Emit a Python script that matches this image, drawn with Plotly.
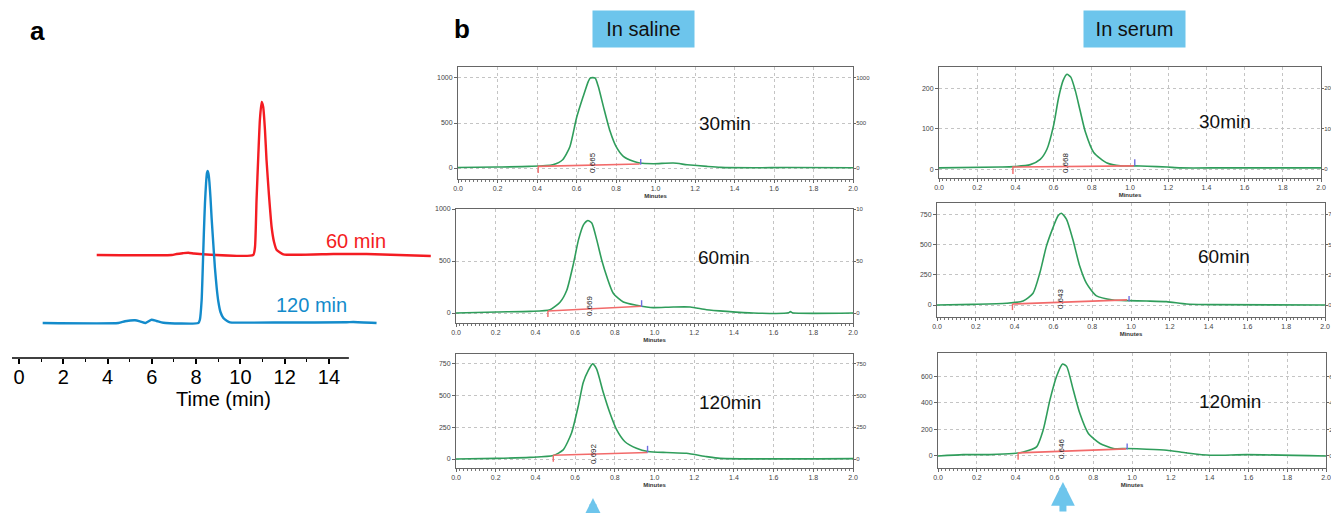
import plotly.graph_objects as go

# The page adds an 8px body margin, so the figure is sized to fill the rest of the window
OFF = 8
W, H = 1339 - OFF, 513 - OFF
FONT = "Liberation Sans, Arial, sans-serif"

# ---------------- Panel a data (time in min, intensity in a.u.) ----------------
t_120 = [1.07, 4.49, 4.79, 5.24, 5.46, 5.72, 5.99, 6.22, 6.52, 8.10, 8.17, 8.25, 8.30, 8.35, 8.40,
         8.45, 8.49, 8.52, 8.56, 8.60, 8.65, 8.70, 8.78, 8.85, 8.93, 9.00, 9.10, 9.23, 9.40, 9.53,
         12.0, 14.8, 15.1, 16.15]
v_120 = [0, 0, 1.7, 2.7, 1.7, 0, 3.3, 2, 0.3, 0, 3.3, 23, 55, 90, 120,
         140, 150, 152, 149, 141, 125, 105, 78, 55, 35, 22, 11, 5, 2, 0.7,
         0.5, 0.7, 1.0, 0]
t_60 = [3.51, 6.90, 7.12, 7.40, 7.65, 7.90, 8.17, 10.58, 10.66, 10.73, 10.81, 10.88, 10.96, 11.03,
        11.11, 11.18, 11.29, 11.41, 11.52, 11.64, 11.94, 14.2, 15.7, 18.6]
v_60 = [0, 0, 1, 1.8, 2.3, 1.5, 1, 0, 8, 55, 100, 135, 153, 148,
        125, 95, 60, 28, 13, 5, 0.7, 1, 1, -1]
offset_60 = 68
ticks_a = [0, 2, 4, 6, 8, 10, 12, 14]
minor_a = [1, 3, 5, 7, 9, 11, 13]

# ---------------- Panel b data (retention in Min/s, signal) ----------------
sal30_t = [0.0, 0.195, 0.36, 0.48, 0.53, 0.567, 0.60, 0.634, 0.66, 0.67, 0.694, 0.71, 0.736, 0.77,
           0.80, 0.837, 0.888, 0.92, 0.99, 1.09, 1.16, 1.26, 1.33, 1.5, 1.67, 2.0]
sal30_v = [5, 11, 18, 37, 92, 240, 555, 796, 963, 1000, 1000, 907, 685, 407,
           240, 130, 74, 55, 48, 55, 37, 18, 7, 3, 5, 3]
sal30_base_t, sal30_base_v = [0.406, 0.92], [18, 44]
sal30_start_t, sal30_start_v = [0.406, 0.406], [26, -55]
sal30_end_t, sal30_end_v = [0.925, 0.925], [37, 100]

ser30_t = [0.0, 0.32, 0.39, 0.478, 0.53, 0.565, 0.60, 0.626, 0.65, 0.67, 0.69, 0.714, 0.74, 0.766,
           0.81, 0.88, 0.95, 1.02, 1.09, 1.195, 1.265, 1.5, 2.0]
ser30_v = [3, 5, 6, 11, 24, 49, 108, 176, 219, 234, 227, 193, 142, 92,
           41, 15, 8, 8, 7, 5, 3, 3, 3]
ser30_base_t, ser30_base_v = [0.387, 1.02], [5, 8]
ser30_start_t, ser30_start_v = [0.387, 0.387], [7, -12]
ser30_end_t, ser30_end_v = [1.025, 1.025], [8, 24]

sal60_t = [0.0, 0.206, 0.374, 0.474, 0.525, 0.558, 0.592, 0.617, 0.642, 0.664, 0.684, 0.709, 0.734,
           0.76, 0.793, 0.843, 0.91, 0.96, 0.994, 1.095, 1.18, 1.262, 1.363, 1.497, 1.675, 1.685,
           1.695, 2.0]
sal60_v = [0, 10, 16, 32, 106, 219, 477, 703, 848, 890, 865, 703, 510,
           348, 187, 106, 74, 58, 52, 58, 58, 32, 16, 0, 2, 14, 2, 0]
sal60_base_t, sal60_base_v = [0.463, 0.935], [19, 65]
sal60_start_t, sal60_start_v = [0.463, 0.463], [19, -39]
sal60_end_t, sal60_end_v = [0.935, 0.935], [58, 123]

ser60_t = [0.0, 0.186, 0.358, 0.444, 0.495, 0.53, 0.564, 0.598, 0.624, 0.641, 0.667, 0.70, 0.736,
           0.77, 0.822, 0.908, 0.985, 1.08, 1.183, 1.286, 1.424, 2.0]
ser60_v = [0, 5, 14, 33, 97, 264, 486, 639, 736, 758, 708, 542, 319,
           180, 75, 42, 36, 33, 28, 8, 3, 0]
ser60_base_t, ser60_base_v = [0.389, 0.98], [8, 42]
ser60_start_t, ser60_start_v = [0.389, 0.389], [8, -42]
ser60_end_t, ser60_end_v = [0.99, 0.99], [28, 75]

sal120_t = [0.0, 0.205, 0.372, 0.49, 0.54, 0.582, 0.616, 0.641, 0.666, 0.688, 0.708, 0.742, 0.775,
            0.809, 0.85, 0.909, 0.968, 1.06, 1.161, 1.262, 1.33, 2.0]
sal120_v = [0, 5, 13, 27, 72, 205, 418, 604, 697, 750, 710, 524, 364,
            231, 138, 85, 59, 51, 45, 19, 5, 3]
sal120_base_t, sal120_base_v = [0.49, 0.965], [29, 51]
sal120_start_t, sal120_start_v = [0.49, 0.49], [29, -21]
sal120_end_t, sal120_end_v = [0.965, 0.965], [51, 104]

ser120_t = [0.0, 0.13, 0.267, 0.387, 0.44, 0.508, 0.542, 0.577, 0.611, 0.642, 0.663, 0.697, 0.731,
            0.775, 0.835, 0.904, 0.972, 1.076, 1.179, 1.282, 1.403, 1.59, 2.0]
ser120_v = [0, 10, 10, 18, 30, 68, 195, 423, 600, 694, 676, 499, 322,
            170, 94, 56, 56, 51, 43, 23, 5, 10, 0]
ser120_base_t, ser120_base_v = [0.413, 0.97], [23, 53]
ser120_start_t, ser120_start_v = [0.413, 0.413], [23, -28]
ser120_end_t, ser120_end_v = [0.975, 0.975], [48, 94]

x_ticks_b = [0.0, 0.2, 0.4, 0.6, 0.8, 1.0, 1.2, 1.4, 1.6, 1.8, 2.0]
panel_labels = ["30min", "30min", "60min", "60min", "120min", "120min"]
peak_labels = ["0.665", "0.668", "0.669", "0.643", "0.692", "0.646"]
peak_label_t = [0.68, 0.66, 0.67, 0.64, 0.69, 0.64]
peak_label_v = [60, 15, 67, 50, 47, 53]
y_ticks_b = [[0, 500, 1000], [0, 100, 200], [0, 500, 1000],
             [0, 250, 500, 750], [0, 250, 500, 750], [0, 200, 400, 600]]
# right-hand labels as they appear (cropped) in the original figure
y_right_text = [None, None, ["0", "50", "10"], ["0", "25", "50", "75"], None, ["0", "20", "40", "60"]]
arrow_t = [None, None, None, None, 0.69, 0.644]

# ---------------- layout geometry (screen pixels) ----------------
frames = [  # x0, x1, ytop, ybottom, yrange
    (458, 853, 67, 179, [-122, 1122]),
    (939, 1321, 67, 178, [-22, 252]),
    (456, 853, 209, 323, [-96, 1000]),
    (937, 1325, 203, 317, [-99, 842]),
    (456, 853, 354, 468, [-71, 828]),
    (938, 1326, 353, 468, [-91, 777]),
]
label_pos = [(1.35, 500), (1.496, 118), (1.35, 529), (1.48, 404), (1.38, 442), (1.505, 408)]
arrow_top_px = [None, None, None, None, 498, 482]

panels = [
    (sal30_t, sal30_v, sal30_base_t, sal30_base_v, sal30_start_t, sal30_start_v, sal30_end_t, sal30_end_v),
    (ser30_t, ser30_v, ser30_base_t, ser30_base_v, ser30_start_t, ser30_start_v, ser30_end_t, ser30_end_v),
    (sal60_t, sal60_v, sal60_base_t, sal60_base_v, sal60_start_t, sal60_start_v, sal60_end_t, sal60_end_v),
    (ser60_t, ser60_v, ser60_base_t, ser60_base_v, ser60_start_t, ser60_start_v, ser60_end_t, ser60_end_v),
    (sal120_t, sal120_v, sal120_base_t, sal120_base_v, sal120_start_t, sal120_start_v, sal120_end_t, sal120_end_v),
    (ser120_t, ser120_v, ser120_base_t, ser120_base_v, ser120_start_t, ser120_start_v, ser120_end_t, ser120_end_v),
]

def px_x(p):
    return (p - OFF) / W

def px_y(p):
    return 1 - (p - OFF) / H

fig = go.Figure()
RED_A = "#F41C22"
BLUE_A = "#138BCB"
GREEN = "#2F9D5B"
RED_B = "#F26A6A"
BLUE_B = "#6F6FE0"
ARROW = "#6DC5EC"
GRID = "#C4C4C4"

# Panel a traces
fig.add_trace(go.Scatter(x=t_60, y=[v + offset_60 for v in v_60], mode="lines",
                         line=dict(color=RED_A, width=2.4, shape="spline", smoothing=0.5),
                         xaxis="x", yaxis="y", showlegend=False))
fig.add_trace(go.Scatter(x=t_120, y=v_120, mode="lines",
                         line=dict(color=BLUE_A, width=2.4, shape="spline", smoothing=0.5),
                         xaxis="x", yaxis="y", showlegend=False))

annotations = []
shapes = []

layout = dict(
    width=W, height=H, autosize=False, margin=dict(l=0, r=0, t=0, b=0, pad=0),
    paper_bgcolor="white", plot_bgcolor="white", showlegend=False,
    font=dict(family=FONT, color="black"),
    xaxis=dict(domain=[px_x(12), px_x(435)], range=[-0.316, 18.79], showline=False, showgrid=False,
               zeroline=False, tickvals=ticks_a, ticktext=[str(t) for t in ticks_a],
               ticks="outside", ticklen=5, tickwidth=1.5, tickcolor="black", ticklabelstandoff=-4,
               minor=dict(tickvals=minor_a, ticks="outside", ticklen=3, tickwidth=1.2, tickcolor="black"),
               tickfont=dict(size=20, family=FONT, color="black"),
               title=dict(text="Time (min)", font=dict(size=20, family=FONT, color="black"), standoff=0),
               anchor="y", fixedrange=True, automargin=False),
    yaxis=dict(domain=[px_y(358), px_y(90)], range=[-35, 233], visible=False, anchor="x",
               fixedrange=True, automargin=False),
)
shapes.append(dict(type="line", xref="x", yref="paper", x0=-0.316, x1=14.9,
                   y0=px_y(358), y1=px_y(358), line=dict(color="black", width=1.6)))

annotations.append(dict(text="60 min", x=15.22, y=82, xref="x", yref="y", showarrow=False,
                        font=dict(size=20, color=RED_A, family=FONT)))
annotations.append(dict(text="120 min", x=13.19, y=18, xref="x", yref="y", showarrow=False,
                        font=dict(size=20, color=BLUE_A, family=FONT)))
annotations.append(dict(text="<b>a</b>", x=px_x(37), y=px_y(31), xref="paper", yref="paper",
                        xanchor="center", yanchor="middle",
                        showarrow=False, font=dict(size=26, family=FONT, color="black")))
annotations.append(dict(text="<b>b</b>", x=px_x(462), y=px_y(29), xref="paper", yref="paper",
                        xanchor="center", yanchor="middle",
                        showarrow=False, font=dict(size=26, family=FONT, color="black")))

for center, label in [(643, "In saline"), (1134, "In serum")]:
    annotations.append(dict(text=label, x=px_x(center), y=px_y(29), xref="paper", yref="paper",
                            xanchor="center", yanchor="middle",
                            showarrow=False, bgcolor=ARROW, width=101, height=36, borderpad=0,
                            font=dict(size=20, family=FONT, color="#111111")))

tickfont_b = dict(size=7, family=FONT, color="#444444")
tickfont_r = dict(size=6, family=FONT, color="#444444")
for i, (fr, pdata) in enumerate(zip(frames, panels)):
    n = i + 2
    rn = i + 8
    xa, ya, ra = f"x{n}", f"y{n}", f"y{rn}"
    x0, x1, yt, yb, yr = fr
    tt, vv, bt, bv, st, sv, et, ev = pdata
    layout[f"xaxis{n}"] = dict(
        domain=[px_x(x0), px_x(x1)], range=[0, 2.0], anchor=ya, showline=True, mirror=True,
        linecolor="#666666", linewidth=1, showgrid=True, gridcolor=GRID, griddash="dot",
        gridwidth=1, zeroline=False, tickvals=x_ticks_b, tickformat=".1f", ticks="outside",
        ticklen=3, tickcolor="#666666", tickfont=tickfont_b,
        minor=dict(dtick=0.02, ticks="outside", ticklen=2, tickcolor="#777777", showgrid=False),
        title=dict(text="<b>Minutes</b>", font=dict(size=6, family=FONT, color="#333333"), standoff=2),
        fixedrange=True, automargin=False)
    layout[f"yaxis{n}"] = dict(
        domain=[px_y(yb), px_y(yt)], range=yr, anchor=xa, showline=True, mirror=True,
        linecolor="#666666", linewidth=1, showgrid=True, gridcolor=GRID, griddash="dot",
        gridwidth=1, zeroline=False, tickvals=y_ticks_b[i], ticks="outside", ticklen=3,
        tickcolor="#666666", tickfont=tickfont_b, fixedrange=True, automargin=False)
    rt = y_right_text[i]
    layout[f"yaxis{rn}"] = dict(
        range=yr, overlaying=ya, anchor=xa, side="right", showgrid=False, zeroline=False,
        showline=False, tickvals=y_ticks_b[i], ticktext=rt if rt else [str(v) for v in y_ticks_b[i]],
        ticks="outside", ticklen=2, tickcolor="#666666", tickfont=tickfont_r, fixedrange=True,
        ticklabelstandoff=-1, automargin=False)
    # invisible trace to activate right axis
    fig.add_trace(go.Scatter(x=tt, y=vv, mode="lines", line=dict(width=0, color="rgba(0,0,0,0)"),
                             xaxis=xa, yaxis=ra, hoverinfo="skip", showlegend=False))
    fig.add_trace(go.Scatter(x=tt, y=vv, mode="lines",
                             line=dict(color=GREEN, width=1.6, shape="spline", smoothing=0.6),
                             xaxis=xa, yaxis=ya, showlegend=False))
    fig.add_trace(go.Scatter(x=bt, y=bv, mode="lines", line=dict(color=RED_B, width=1.6),
                             xaxis=xa, yaxis=ya, showlegend=False))
    fig.add_trace(go.Scatter(x=st, y=sv, mode="lines", line=dict(color=RED_B, width=1.4),
                             xaxis=xa, yaxis=ya, showlegend=False))
    fig.add_trace(go.Scatter(x=et, y=ev, mode="lines", line=dict(color=BLUE_B, width=1.4),
                             xaxis=xa, yaxis=ya, showlegend=False))
    annotations.append(dict(text=panel_labels[i], x=label_pos[i][0], y=label_pos[i][1], xref=xa, yref=ya,
                            showarrow=False, font=dict(size=19, family=FONT, color="#111111")))
    annotations.append(dict(text=peak_labels[i], x=peak_label_t[i], y=peak_label_v[i], xref=xa, yref=ya,
                            showarrow=False, textangle=-90,
                            font=dict(size=8, family=FONT, color="#222222")))
    if arrow_t[i] is not None:
        annotations.append(dict(text="", x=arrow_t[i], y=px_y(arrow_top_px[i]), xref=xa, yref="paper",
                                showarrow=True, ax=0, ay=45, axref="pixel", ayref="pixel",
                                arrowhead=2, arrowwidth=7, arrowsize=0.68, arrowcolor=ARROW,
                                standoff=0))

layout["annotations"] = annotations
layout["shapes"] = shapes
fig.update_layout(**layout)
fig.write_html("out.html")
